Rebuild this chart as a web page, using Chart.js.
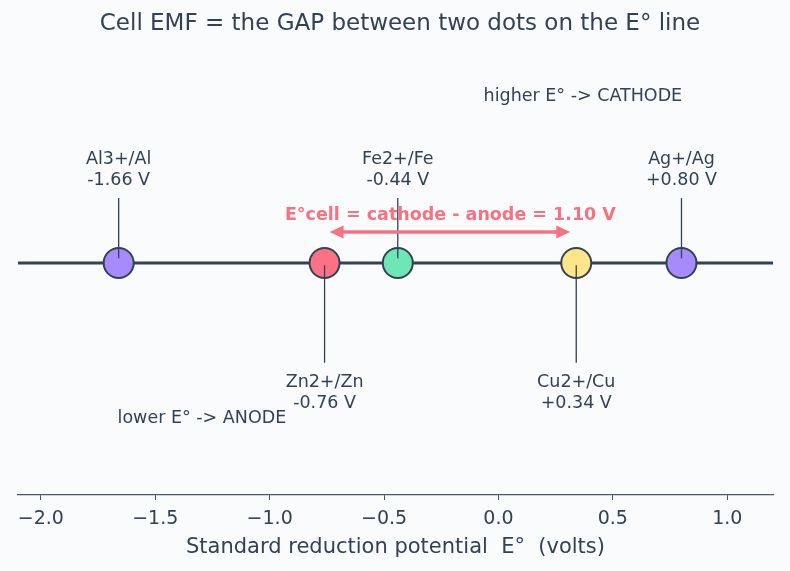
<!DOCTYPE html>
<html>
<head>
<meta charset="utf-8">
<script src="https://cdn.jsdelivr.net/npm/chart.js@4.4.1/dist/chart.umd.min.js"></script>
<style>
  html, body { margin: 0; padding: 0; background: #fafbfd; }
  #wrap { width: 790px; height: 571px; }
</style>
</head>
<body>
<div id="wrap"><canvas id="emfChart" width="790" height="571"></canvas></div>
<script>
// half-cell couples and their standard reduction potentials (V)
const couples = ["Al3+/Al", "Zn2+/Zn", "Fe2+/Fe", "Cu2+/Cu", "Ag+/Ag"];
const potentials = [-1.66, -0.76, -0.44, 0.34, 0.80];
const potentialLabels = ["-1.66 V", "-0.76 V", "-0.44 V", "+0.34 V", "+0.80 V"];
const labelAbove = [true, false, true, false, true];
const dotColors = ["#a78bfa", "#fb7185", "#6ee7b7", "#fde68a", "#a78bfa"];
const xTicks = [-2.0, -1.5, -1.0, -0.5, 0.0, 0.5, 1.0];

const anodeE = -0.76, cathodeE = 0.34;
const ink = "#334155";
const rose = "#f8717f";

const fmtTick = v => (v < 0 ? "\u2212" : "") + Math.abs(v).toFixed(1);

const decor = {
  id: "decor",
  beforeDatasetsDraw(chart) {
    const { ctx, chartArea: a, scales: { y } } = chart;
    const y0 = y.getPixelForValue(0);
    ctx.save();
    ctx.strokeStyle = ink;
    ctx.lineWidth = 3;
    ctx.beginPath();
    ctx.moveTo(a.left, y0);
    ctx.lineTo(a.right, y0);
    ctx.stroke();
    ctx.restore();
  },
  afterDatasetsDraw(chart) {
    const { ctx, scales: { x, y } } = chart;
    ctx.save();
    ctx.font = "17.5px 'DejaVu Sans'";
    ctx.textAlign = "center";
    ctx.textBaseline = "middle";
    couples.forEach((c, i) => {
      const px = x.getPixelForValue(potentials[i]);
      ctx.strokeStyle = ink;
      ctx.lineWidth = 1.3;
      ctx.beginPath();
      if (labelAbove[i]) {
        ctx.moveTo(px, y.getPixelForValue(0.02));
        ctx.lineTo(px, y.getPixelForValue(0.28));
      } else {
        ctx.moveTo(px, y.getPixelForValue(-0.01));
        ctx.lineTo(px, y.getPixelForValue(-0.43));
      }
      ctx.stroke();
      ctx.fillStyle = ink;
      const cy = labelAbove[i] ? y.getPixelForValue(0.40) : y.getPixelForValue(-0.56);
      ctx.fillText(c, px, cy - 10.5);
      ctx.fillText(potentialLabels[i], px, cy + 10.5);
    });

    // EMF arrow between anode and cathode
    const ay = y.getPixelForValue(0.134);
    const xa = x.getPixelForValue(anodeE) + 5;
    const xc = x.getPixelForValue(cathodeE) - 6;
    ctx.strokeStyle = rose;
    ctx.fillStyle = rose;
    ctx.lineWidth = 3.5;
    ctx.beginPath();
    ctx.moveTo(xa + 8, ay);
    ctx.lineTo(xc - 8, ay);
    ctx.stroke();
    ctx.beginPath();
    ctx.moveTo(xa, ay);
    ctx.lineTo(xa + 14, ay - 6.5);
    ctx.lineTo(xa + 14, ay + 6.5);
    ctx.closePath();
    ctx.fill();
    ctx.beginPath();
    ctx.moveTo(xc, ay);
    ctx.lineTo(xc - 14, ay - 6.5);
    ctx.lineTo(xc - 14, ay + 6.5);
    ctx.closePath();
    ctx.fill();
    ctx.font = "bold 17.5px 'DejaVu Sans'";
    const emf = (cathodeE - anodeE).toFixed(2);
    ctx.fillText("E\u00b0cell = cathode - anode = " + emf + " V",
      x.getPixelForValue((anodeE + cathodeE) / 2), y.getPixelForValue(0.203));

    ctx.font = "17.5px 'DejaVu Sans'";
    ctx.fillStyle = ink;
    ctx.textAlign = "left";
    ctx.fillText("higher E\u00b0 -> CATHODE", x.getPixelForValue(-0.065), y.getPixelForValue(0.716));
    ctx.fillText("lower E\u00b0 -> ANODE", x.getPixelForValue(-1.665), y.getPixelForValue(-0.668));
    ctx.restore();
  }
};

new Chart(document.getElementById("emfChart"), {
  type: "scatter",
  data: {
    datasets: [{
      data: potentials.map(v => ({ x: v, y: 0 })),
      backgroundColor: dotColors,
      borderColor: ink,
      borderWidth: 2,
      pointRadius: 15,
      pointHoverRadius: 15
    }]
  },
  options: {
    responsive: false,
    animation: false,
    layout: { padding: { left: 18, right: 8, bottom: 11 } },
    plugins: {
      legend: { display: false },
      tooltip: { enabled: false },
      title: {
        display: true,
        text: "Cell EMF = the GAP between two dots on the E\u00b0 line",
        color: ink,
        font: { family: "'DejaVu Sans'", size: 23, weight: "normal" },
        padding: { top: 10, bottom: 5 }
      }
    },
    scales: {
      x: {
        type: "linear",
        min: -2.1,
        max: 1.2,
        afterBuildTicks: s => { s.ticks = xTicks.map(v => ({ value: v })); },
        ticks: {
          color: ink,
          font: { family: "'DejaVu Sans'", size: 19 },
          padding: 8,
          callback: v => fmtTick(v)
        },
        grid: { display: true, drawOnChartArea: false, drawTicks: true, tickLength: 5, color: "#4b5563", lineWidth: 1 },
        border: { display: true, color: "#4b5563", width: 1.2 },
        title: {
          display: true,
          text: "Standard reduction potential  E\u00b0  (volts)",
          color: ink,
          font: { family: "'DejaVu Sans'", size: 21 },
          padding: { top: -4, bottom: 0 }
        }
      },
      y: { display: false, min: -1, max: 0.95 }
    }
  },
  plugins: [decor]
});
</script>
</body>
</html>
